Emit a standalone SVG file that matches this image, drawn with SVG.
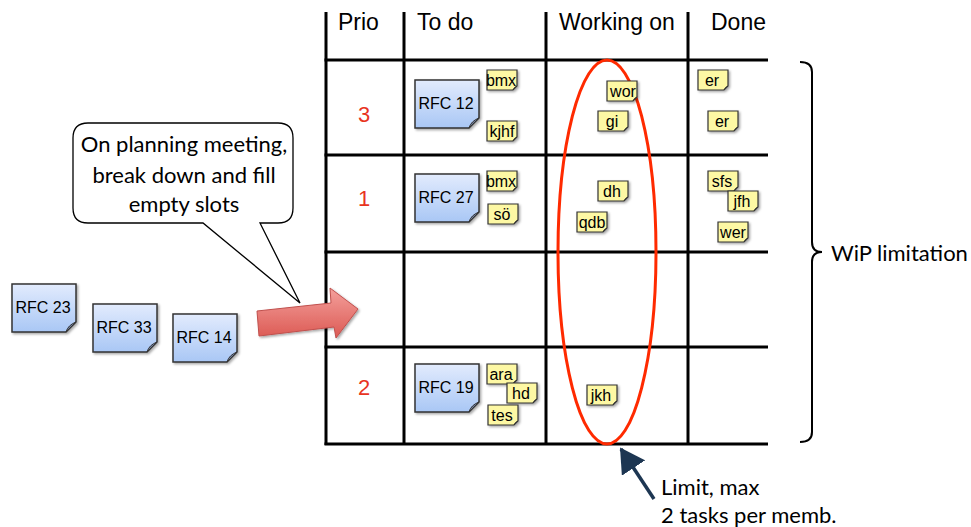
<svg xmlns="http://www.w3.org/2000/svg" width="971" height="527" viewBox="0 0 971 527">
  <defs>
    <linearGradient id="blueFill" x1="0" y1="0" x2="0" y2="1">
      <stop offset="0" stop-color="#e2ebfd"/>
      <stop offset="1" stop-color="#a9c7f5"/>
    </linearGradient>
    <linearGradient id="arrowFill" x1="0" y1="0" x2="0" y2="1">
      <stop offset="0" stop-color="#f4a09c"/>
      <stop offset="1" stop-color="#dc5a54"/>
    </linearGradient>
    <filter id="shadow" x="-20%" y="-20%" width="150%" height="150%">
      <feDropShadow dx="1.5" dy="1.5" stdDeviation="1" flood-color="#000" flood-opacity="0.35"/>
    </filter>
    <!-- large task card with folded corner -->
    <g id="card">
      <path d="M0,0 H64 V38 L54,48 H0 Z" fill="url(#blueFill)" stroke="#333" stroke-width="1.5"/>
      <path d="M64,38 L54,48 Q56,41 64,38 Z" fill="#6f7f9c" stroke="#333" stroke-width="1"/>
    </g>
    <!-- small sub-task sticker -->
    <g id="sticker">
      <path d="M0,0 H30 V16 L26,20 H0 Z" fill="#fdf8a4" stroke="#333" stroke-width="1.2"/>
      <path d="M30,16 L26,20 Q27,17 30,16 Z" fill="#555" stroke="#333" stroke-width="0.8"/>
    </g>
    <marker id="navyHead" markerWidth="8" markerHeight="8" refX="6.5" refY="4" orient="auto" markerUnits="strokeWidth">
      <path d="M0,0 L7,4 L0,8 Z" fill="#1d3652"/>
    </marker>
  </defs>
  <style>
    .grid { stroke: #000; stroke-width: 3; fill: none; }
    .head { font-family: "Liberation Sans", Arial, sans-serif; font-size: 23px; fill: #000; }
    .prio { font-family: "Liberation Sans", Arial, sans-serif; font-size: 22px; fill: #e8341f; text-anchor: middle; }
    .cardText { font-family: "Liberation Sans", Arial, sans-serif; font-size: 16px; fill: #000; text-anchor: middle; }
    .stickText { font-family: "Liberation Sans", Arial, sans-serif; font-size: 16px; fill: #000; text-anchor: middle; }
    .note { font-family: Lato, "Open Sans", sans-serif; font-size: 22px; fill: #000; }
  </style>

  <rect width="971" height="527" fill="#fff"/>

  <!-- board grid -->
  <g id="board">
    <line class="grid" x1="326" y1="12" x2="326" y2="445"/>
    <line class="grid" x1="404" y1="12" x2="404" y2="445"/>
    <line class="grid" x1="546" y1="12" x2="546" y2="445"/>
    <line class="grid" x1="688" y1="12" x2="688" y2="445"/>
    <line class="grid" x1="324.5" y1="60" x2="768" y2="60"/>
    <line class="grid" x1="324.5" y1="155" x2="768" y2="155"/>
    <line class="grid" x1="324.5" y1="252" x2="768" y2="252"/>
    <line class="grid" x1="324.5" y1="347" x2="768" y2="347"/>
    <line class="grid" x1="324.5" y1="444" x2="768" y2="444"/>
    <text class="head" x="338" y="30">Prio</text>
    <text class="head" x="417" y="30">To do</text>
    <text class="head" x="559" y="30">Working on</text>
    <text class="head" x="711" y="30">Done</text>
    <text class="prio" x="364" y="122">3</text>
    <text class="prio" x="364" y="206">1</text>
    <text class="prio" x="364" y="395">2</text>
  </g>

  <!-- WiP limit ring around the "Working on" column -->
  <ellipse id="wip-ring" cx="607" cy="252" rx="49" ry="192" fill="none" stroke="#ff2a00" stroke-width="3"/>

  <!-- task cards on the board -->
  <g id="rfc12" transform="translate(415,80)"><use href="#card" filter="url(#shadow)"/><text class="cardText" x="31" y="29">RFC 12</text></g>
  <g id="rfc27" transform="translate(415,174)"><use href="#card" filter="url(#shadow)"/><text class="cardText" x="31" y="29">RFC 27</text></g>
  <g id="rfc19" transform="translate(415,364)"><use href="#card" filter="url(#shadow)"/><text class="cardText" x="31" y="29">RFC 19</text></g>

  <!-- backlog cards -->
  <g id="rfc23" transform="translate(12,284)"><use href="#card" filter="url(#shadow)"/><text class="cardText" x="31" y="29">RFC 23</text></g>
  <g id="rfc33" transform="translate(93,304)"><use href="#card" filter="url(#shadow)"/><text class="cardText" x="31" y="29">RFC 33</text></g>
  <g id="rfc14" transform="translate(173,314)"><use href="#card" filter="url(#shadow)"/><text class="cardText" x="31" y="29">RFC 14</text></g>

  <!-- sub-task stickers -->
  <g id="t-bmx1" transform="translate(487,70)"><use href="#sticker" filter="url(#shadow)"/><text class="stickText" x="14" y="16">bmx</text></g>
  <g id="t-kjhf" transform="translate(487,121)"><use href="#sticker" filter="url(#shadow)"/><text class="stickText" x="15" y="16">kjhf</text></g>
  <g id="t-bmx2" transform="translate(487,171)"><use href="#sticker" filter="url(#shadow)"/><text class="stickText" x="14" y="16">bmx</text></g>
  <g id="t-so" transform="translate(488,204)"><use href="#sticker" filter="url(#shadow)"/><text class="stickText" x="14" y="16">sö</text></g>
  <g id="t-ara" transform="translate(487,364)"><use href="#sticker" filter="url(#shadow)"/><text class="stickText" x="14" y="16">ara</text></g>
  <g id="t-hd" transform="translate(507,383)"><use href="#sticker" filter="url(#shadow)"/><text class="stickText" x="14" y="16">hd</text></g>
  <g id="t-tes" transform="translate(488,405)"><use href="#sticker" filter="url(#shadow)"/><text class="stickText" x="14" y="16">tes</text></g>

  <g id="t-wor" transform="translate(607,81)"><use href="#sticker" filter="url(#shadow)"/><text class="stickText" x="16" y="16">wor</text></g>
  <g id="t-gi" transform="translate(598,111)"><use href="#sticker" filter="url(#shadow)"/><text class="stickText" x="14" y="16">gi</text></g>
  <g id="t-dh" transform="translate(598,181)"><use href="#sticker" filter="url(#shadow)"/><text class="stickText" x="14" y="16">dh</text></g>
  <g id="t-qdb" transform="translate(577,212)"><use href="#sticker" filter="url(#shadow)"/><text class="stickText" x="15" y="16">qdb</text></g>
  <g id="t-jkh" transform="translate(587,385)"><use href="#sticker" filter="url(#shadow)"/><text class="stickText" x="14" y="16">jkh</text></g>

  <g id="t-er1" transform="translate(698,70)"><use href="#sticker" filter="url(#shadow)"/><text class="stickText" x="14" y="16">er</text></g>
  <g id="t-er2" transform="translate(708,111)"><use href="#sticker" filter="url(#shadow)"/><text class="stickText" x="14" y="16">er</text></g>
  <g id="t-sfs" transform="translate(708,171)"><use href="#sticker" filter="url(#shadow)"/><text class="stickText" x="14" y="16">sfs</text></g>
  <g id="t-jfh" transform="translate(728,191)"><use href="#sticker" filter="url(#shadow)"/><text class="stickText" x="14" y="16">jfh</text></g>
  <g id="t-wer" transform="translate(718,222)"><use href="#sticker" filter="url(#shadow)"/><text class="stickText" x="15" y="16">wer</text></g>

  <!-- speech bubble -->
  <g id="callout">
    <path d="M88,123 H278 Q293,123 293,138 V208 Q293,223 278,223 H260 L300,303 L203,223 H88 Q73,223 73,208 V138 Q73,123 88,123 Z" fill="#fff" stroke="#000" stroke-width="1.3"/>
    <text class="note" x="184" y="152" text-anchor="middle">On planning meeting,</text>
    <text class="note" x="184" y="183" text-anchor="middle">break down and fill</text>
    <text class="note" x="184" y="212" text-anchor="middle">empty slots</text>
  </g>

  <!-- WiP brace -->
  <g id="wip-brace">
    <path d="M800,62 Q812,62 812,72 V242 Q812,252 822,252 Q812,252 812,262 V432 Q812,442 800,442" fill="none" stroke="#000" stroke-width="2"/>
    <text class="note" x="831" y="261">WiP limitation</text>
  </g>

  <!-- limit annotation -->
  <g id="limit-note">
    <text class="note" x="661" y="495">Limit, max</text>
    <text class="note" x="661" y="523">2 tasks per memb.</text>
  </g>

  <!-- connectors -->
  <g id="connectors">
    <path id="fill-arrow" d="M257,311 L331,303 L330,288 L358,309 L336,338 L334,327 L259,336 Z" fill="url(#arrowFill)" stroke="#c0504d" stroke-width="1" filter="url(#shadow)"/>
    <line id="limit-arrow" x1="654" y1="499" x2="621" y2="449" stroke="#1d3652" stroke-width="3.5" marker-end="url(#navyHead)"/>
  </g>
</svg>
